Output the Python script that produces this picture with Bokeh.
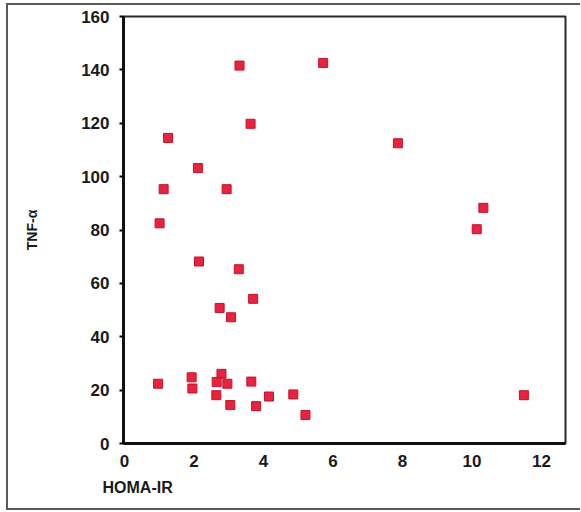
from bokeh.plotting import figure
from bokeh.models import Range1d, LinearAxis, FixedTicker, Title
from bokeh.embed import file_html
from bokeh.resources import INLINE

homa_ir = [3.15, 5.42, 3.45, 1.21, 2.02, 1.09, 2.80, 0.98, 2.05, 3.13,
           3.52, 2.61, 2.92, 0.94, 1.85, 1.87, 2.66, 2.53, 2.82, 2.52,
           2.90, 3.47, 3.60, 3.95, 4.61, 4.94, 7.45, 9.77, 9.59, 10.87]
tnf_alpha = [141.6, 142.6, 119.8, 114.5, 103.2, 95.3, 95.3, 82.5, 68.2, 65.3,
             54.2, 50.8, 47.3, 22.4, 24.8, 20.6, 26.1, 23.0, 22.4, 18.1,
             14.4, 23.2, 14.0, 17.6, 18.4, 10.7, 112.5, 88.3, 80.3, 18.1]
x_ticks = [0, 2, 4, 6, 8, 10, 12]
y_ticks = [0, 20, 40, 60, 80, 100, 120, 140, 160]

FONT = "Liberation Sans"
TXT = "#1a1a1a"

p = figure(width=580, height=511, output_backend="svg", toolbar_location=None,
           x_range=Range1d(0, 12), y_range=Range1d(0, 160),
           min_border_left=123, min_border_right=15, min_border_top=16,
           min_border_bottom=68)
p.title.visible = False
p.border_fill_color = None
p.background_fill_color = "white"
p.styles = {
    "background-image": ("linear-gradient(#5a5a5a,#5a5a5a), "
                         "linear-gradient(#5a5a5a,#5a5a5a), "
                         "linear-gradient(#5a5a5a,#5a5a5a)"),
    "background-position": "6px 3px, 6px 3px, 6px 508px",
    "background-size": "2px 507px, 580px 2px, 580px 2px",
    "background-repeat": "no-repeat",
}
p.xgrid.visible = False
p.ygrid.visible = False
p.outline_line_color = "#2a2a2a"
p.outline_line_width = 2

xa = p.xaxis[0]
xa.ticker = FixedTicker(ticks=[])
xa.axis_line_width = 3
xa.axis_line_color = "#111111"
xa.minor_tick_line_color = None
xa.major_tick_line_color = None

p.extra_x_ranges = {"lab": Range1d(-0.029, 12.69)}
lab = LinearAxis(x_range_name="lab", ticker=FixedTicker(ticks=x_ticks))
lab.axis_line_color = None
lab.major_tick_line_color = None
lab.minor_tick_line_color = None
lab.major_label_standoff = 5
lab.major_label_text_font = FONT
lab.major_label_text_font_style = "bold"
lab.major_label_text_font_size = "17px"
lab.major_label_text_color = TXT
p.add_layout(lab, "below")

ya = p.yaxis[0]
ya.ticker = FixedTicker(ticks=y_ticks)
ya.axis_line_width = 3
ya.axis_line_color = "#111111"
ya.major_tick_out = 4
ya.major_tick_in = 0
ya.major_tick_line_width = 2
ya.minor_tick_line_color = None
ya.major_label_standoff = 10
ya.major_label_text_font = FONT
ya.major_label_text_font_style = "bold"
ya.major_label_text_font_size = "17px"
ya.major_label_text_color = TXT
ya.axis_label = "TNF-α"
ya.axis_label_standoff = 38
ya.axis_label_text_font = FONT
ya.axis_label_text_font_style = "bold"
ya.axis_label_text_font_size = "14px"
ya.axis_label_text_color = TXT

p.add_layout(Title(text="HOMA-IR", align="left", offset=-21, standoff=14,
                   text_font=FONT, text_font_style="bold",
                   text_font_size="16px", text_color=TXT), "below")

p.scatter(homa_ir, tnf_alpha, marker="square", size=9,
          fill_color="#e8233e", line_color="#c8102e", line_width=1)

open("out.html", "w").write(file_html(p, INLINE))
